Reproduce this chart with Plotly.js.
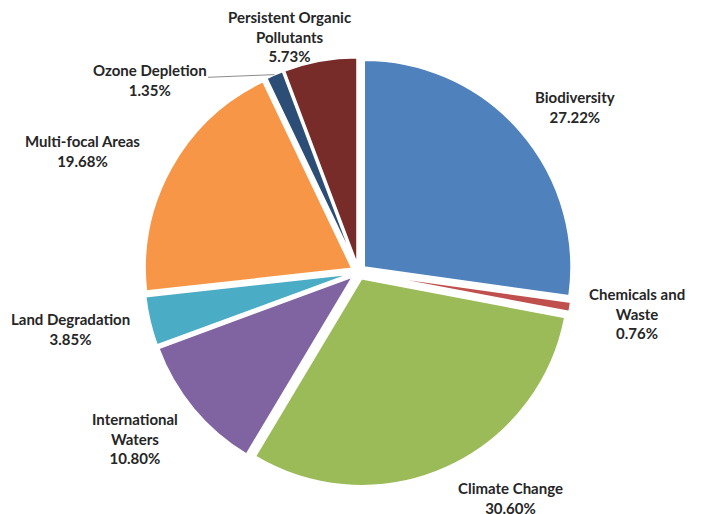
<!DOCTYPE html>
<html>
<head>
<meta charset="utf-8">
<script src="https://cdn.plot.ly/plotly-3.0.1.min.js"></script>
<style>html,body{margin:0;padding:0;background:#fff;}#chart{width:705px;height:514px;}</style>
</head>
<body>
<div id="chart"></div>
<script>
const categories = ["Biodiversity", "Chemicals and<br>Waste", "Climate Change", "International<br>Waters", "Land Degradation", "Multi-focal Areas", "Ozone Depletion", "Persistent Organic<br>Pollutants"];
const shares = [27.22, 0.76, 30.60, 10.80, 3.85, 19.68, 1.35, 5.73];
const colors = ["#4F81BD", "#C0504D", "#9BBB59", "#8064A2", "#4BACC6", "#F79646", "#2C4D75", "#772C2A"];

// label offsets (pixels) from each slice's outer mid-point; style only
const labelDX = [55, 67, 64, -58, -79, -89, -125, -31];
const labelDY = [-24, 7, 30, 30, 8, -17, 5, -24];
const leader = [false, false, false, false, false, false, true, false];

const W = 705, H = 514;
const dom = {x: [0.2043, 0.8128], y: [0.0506, 0.8911]};
const pull = 0.035;

// geometry of the pie as Plotly lays it out
const cxPx = (dom.x[0] + dom.x[1]) / 2 * W;
const cyPx = (1 - (dom.y[0] + dom.y[1]) / 2) * H;
const boxR = Math.min((dom.x[1] - dom.x[0]) * W, (dom.y[1] - dom.y[0]) * H) / 2;
const outerR = boxR; // r*(1+pull)

const total = shares.reduce((a, b) => a + b, 0);
const annotations = [];
let cum = 0;
shares.forEach((v, i) => {
  const mid = (cum + v / 2) / total * 2 * Math.PI;
  cum += v;
  const px = cxPx + outerR * Math.sin(mid);
  const py = cyPx - outerR * Math.cos(mid);
  annotations.push({
    xref: "paper", yref: "paper",
    x: px / W, y: 1 - py / H,
    text: "<b>" + categories[i] + "<br>" + v.toFixed(2) + "%</b>",
    showarrow: true,
    arrowhead: 0,
    arrowwidth: 1,
    arrowcolor: leader[i] ? "#8c8c8c" : "rgba(0,0,0,0)",
    ax: labelDX[i], ay: labelDY[i],
    standoff: 0,
    align: "center",
    font: {family: "Lato, 'Open Sans', sans-serif", size: 15, color: "#262626"}
  });
});

const trace = {
  type: "pie",
  labels: categories,
  values: shares,
  sort: false,
  direction: "clockwise",
  rotation: 0,
  pull: pull,
  marker: {colors: colors, line: {color: "#ffffff", width: 2}},
  textinfo: "none",
  automargin: false,
  domain: dom,
  hoverinfo: "label+percent"
};

const layout = {
  width: W, height: H,
  margin: {l: 0, r: 0, t: 0, b: 0},
  showlegend: false,
  paper_bgcolor: "#ffffff",
  annotations: annotations
};

Plotly.newPlot("chart", [trace], layout, {displayModeBar: false, staticPlot: true});
</script>
</body>
</html>
